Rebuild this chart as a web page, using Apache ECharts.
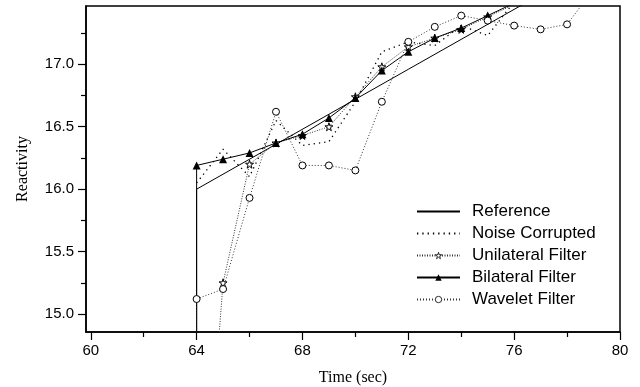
<!DOCTYPE html>
<html>
<head>
<meta charset="utf-8">
<script src="https://cdn.jsdelivr.net/npm/echarts@6/dist/echarts.min.js"></script>
<style>
  html, body { margin: 0; padding: 0; background: #fff; }
  #chart { width: 640px; height: 387px; }
</style>
</head>
<body>
<div id="chart"></div>
<script>
// time samples (sec)
var times = [64, 65, 66, 67, 68, 69, 70, 71, 72, 73, 74, 75, 76, 77, 78, 79];
// value just before the step at t=64 (off the bottom of the plot)
var stepLow = 12;
var refTimes = [64, 72, 80];
var reference = [16.0, 16.96, 17.92];
var noise = [16.05, 16.32, 16.10, 16.55, 16.35, 16.38, 16.70, 17.10, 17.18, 17.15, 17.31, 17.23, 17.50, 17.60];
var unilateral = [12.5, 15.25, 16.20, 16.37, 16.43, 16.50, 16.74, 16.98, 17.14, 17.21, 17.28, 17.38, 17.48, 17.58];
var bilateral = [16.19, 16.24, 16.29, 16.37, 16.44, 16.57, 16.73, 16.95, 17.10, 17.21, 17.29, 17.39, 17.49, 17.60];
var wavelet = [15.12, 15.20, 15.93, 16.62, 16.19, 16.19, 16.15, 16.70, 17.18, 17.30, 17.39, 17.35, 17.31, 17.28, 17.32, 17.60];

var xLabels = [60, 64, 68, 72, 76, 80];
var xMinor = [62, 66, 70, 74, 78];
var yLabels = [15.0, 15.5, 16.0, 16.5, 17.0];
var yMinor = [15.25, 15.75, 16.25, 16.75, 17.25];

var xMin = 59.82, xMax = 80;
var yMin = 14.856, yMax = 17.467;

function pairs(ts, vs) {
    var out = [];
    for (var i = 0; i < vs.length; i++) {
        if (vs[i] != null) out.push([ts[i], vs[i]]);
    }
    return out;
}
function withStep(ts, vs) {
    return [[ts[0], stepLow]].concat(pairs(ts, vs));
}

var star = 'path://M50,0 L61,35 L98,35 L68,57 L79,91 L50,70 L21,91 L32,57 L2,35 L39,35 Z';
var noIcon = { color: 'rgba(0,0,0,0)', borderColor: 'rgba(0,0,0,0)', borderWidth: 0 };
var hollowIcon = { color: '#fff', borderColor: '#000', borderWidth: 0.8 };
var tickStyle = { color: '#000', width: 1.2 };

var myChart = echarts.init(document.getElementById('chart'));
var option = {
    backgroundColor: '#fff',
    animation: false,
    grid: {
        left: 86,
        right: 20,
        top: 6,
        bottom: 55,
        outerBoundsMode: 'none',
        containLabel: false,
        show: true,
        borderColor: '#000',
        borderWidth: 1.5
    },
    legend: {
        orient: 'vertical',
        left: 416,
        top: 203,
        padding: 0,
        itemWidth: 43,
        itemHeight: 8,
        itemGap: 5,
        textStyle: {
            fontFamily: 'Liberation Sans',
            fontSize: 17,
            color: '#000',
            padding: [0, 0, 0, 7]
        },
        data: [
            { name: 'Reference', itemStyle: noIcon },
            { name: 'Noise Corrupted', itemStyle: noIcon },
            { name: 'Unilateral Filter', itemStyle: hollowIcon },
            'Bilateral Filter',
            { name: 'Wavelet Filter', itemStyle: hollowIcon }
        ]
    },
    xAxis: [{
        type: 'value',
        min: xMin,
        max: xMax,
        name: 'Time (sec)',
        nameLocation: 'middle',
        nameGap: 38,
        nameTextStyle: { fontFamily: 'Liberation Serif', fontSize: 16, color: '#000' },
        axisLine: { show: true, lineStyle: { color: '#000', width: 1.5 } },
        axisTick: { show: true, inside: false, length: 8, customValues: xLabels, lineStyle: tickStyle },
        axisLabel: {
            customValues: xLabels,
            fontFamily: 'Liberation Sans',
            fontSize: 15,
            color: '#000',
            margin: 11
        },
        splitLine: { show: false }
    }, {
        // minor ticks
        type: 'value',
        min: xMin,
        max: xMax,
        position: 'bottom',
        axisLine: { show: false },
        axisTick: { show: true, inside: false, length: 5, customValues: xMinor, lineStyle: tickStyle },
        axisLabel: { show: false },
        splitLine: { show: false }
    }],
    yAxis: [{
        type: 'value',
        min: yMin,
        max: yMax,
        name: 'Reactivity',
        nameLocation: 'middle',
        nameGap: 55,
        nameTextStyle: { fontFamily: 'Liberation Serif', fontSize: 16, color: '#000' },
        axisLine: { show: true, lineStyle: { color: '#000', width: 1.5 } },
        axisTick: { show: true, inside: false, length: 8, customValues: yLabels, lineStyle: tickStyle },
        axisLabel: {
            customValues: yLabels,
            formatter: function (v) { return v.toFixed(1); },
            fontFamily: 'Liberation Sans',
            fontSize: 15,
            color: '#000',
            margin: 12
        },
        splitLine: { show: false }
    }, {
        // minor ticks
        type: 'value',
        min: yMin,
        max: yMax,
        position: 'left',
        axisLine: { show: false },
        axisTick: { show: true, inside: false, length: 5, customValues: yMinor, lineStyle: tickStyle },
        axisLabel: { show: false },
        splitLine: { show: false }
    }],
    series: [
        {
            name: 'Reference',
            type: 'line',
            data: [[refTimes[0], stepLow]].concat(pairs(refTimes, reference)),
            symbol: 'none',
            lineStyle: { color: '#000', width: 1 },
            itemStyle: { color: '#000' }
        },
        {
            name: 'Noise Corrupted',
            type: 'line',
            data: pairs(times, noise),
            symbol: 'none',
            lineStyle: { color: '#000', width: 1.3, type: [1.3, 4] },
            itemStyle: { color: '#000' }
        },
        {
            name: 'Unilateral Filter',
            type: 'line',
            data: pairs(times, unilateral),
            symbol: star,
            symbolSize: 8,
            lineStyle: { color: '#333', width: 1, type: [1, 1.5] },
            itemStyle: { color: '#fff', borderColor: '#000', borderWidth: 1 }
        },
        {
            name: 'Bilateral Filter',
            type: 'line',
            data: withStep(times, bilateral),
            symbol: 'triangle',
            symbolSize: 8,
            lineStyle: { color: '#000', width: 1 },
            itemStyle: { color: '#000' }
        },
        {
            name: 'Wavelet Filter',
            type: 'line',
            data: withStep(times, wavelet),
            symbol: 'circle',
            symbolSize: 7,
            lineStyle: { color: '#333', width: 1, type: [1, 2] },
            itemStyle: { color: '#fff', borderColor: '#000', borderWidth: 1 }
        }
    ]
};
myChart.setOption(option);
window.addEventListener('resize', function () {
    myChart.resize();
});
</script>
</body>
</html>
